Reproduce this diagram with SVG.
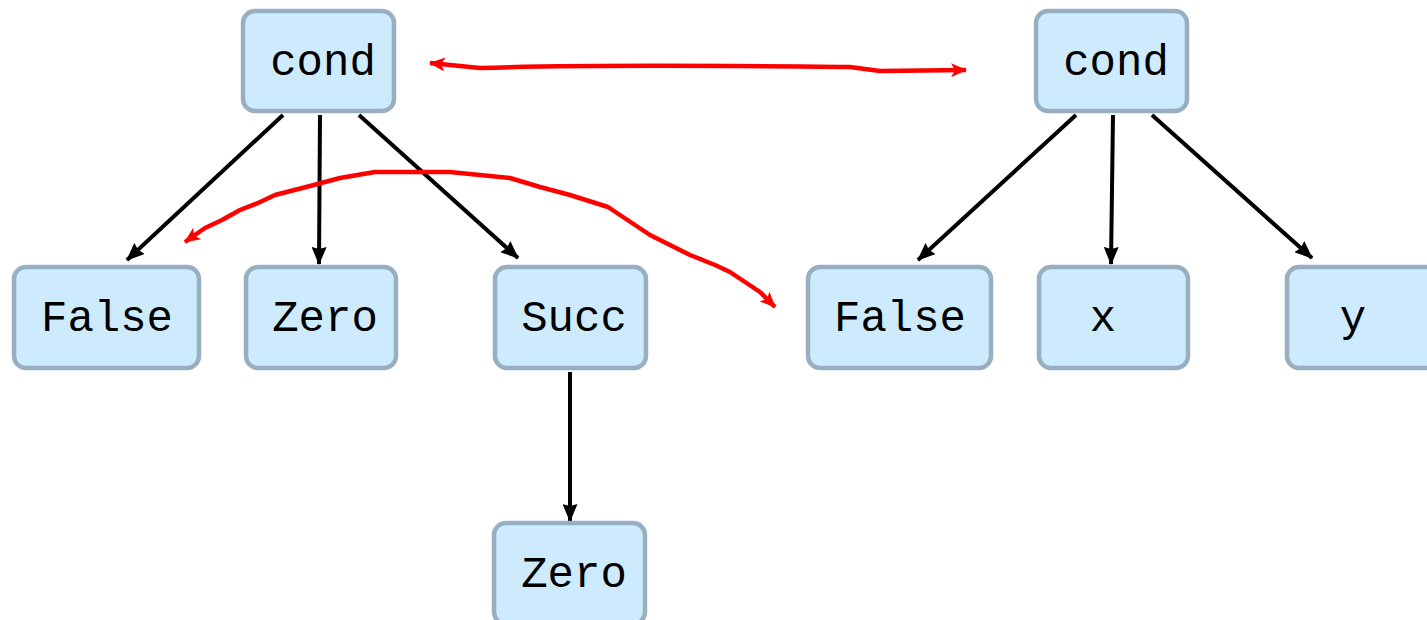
<svg xmlns="http://www.w3.org/2000/svg" width="1427" height="620" viewBox="0 0 1427 620">
<style>
.box{fill:#cdebfd;stroke:#98afc2;stroke-width:4.5}
.lbl{font-family:"Liberation Mono","Courier New",monospace;font-size:44px;fill:#000;text-anchor:middle}
.edge{stroke:#000;stroke-width:4;fill:none;marker-end:url(#ah)}
.red{stroke:#ff0000;stroke-width:4.5;fill:none;stroke-linejoin:round;marker-start:url(#rh);marker-end:url(#rh)}
</style>
<defs>
<marker id="ah" viewBox="0 0 18 15" refX="17" refY="7.5" markerWidth="18" markerHeight="15" markerUnits="userSpaceOnUse" orient="auto">
<path d="M0,0 L18,7.5 L0,15 L2,7.5 z" fill="#000"/>
</marker>
<marker id="rh" viewBox="0 0 16 14" refX="15" refY="7" markerWidth="16" markerHeight="14" markerUnits="userSpaceOnUse" orient="auto-start-reverse">
<path d="M0,0 L16,7 L0,14 L4,7 z" fill="#ff0000"/>
</marker>
</defs>
<g id="connectors">
<line class="edge" x1="283" y1="115" x2="127" y2="260"/>
<line class="edge" x1="320" y1="115" x2="319" y2="264"/>
<line class="edge" x1="359" y1="115" x2="518" y2="258"/>
<line class="edge" x1="570" y1="372" x2="570" y2="521"/>
<line class="edge" x1="1076" y1="115" x2="918" y2="260"/>
<line class="edge" x1="1113" y1="115" x2="1111" y2="264"/>
<line class="edge" x1="1152" y1="115" x2="1312" y2="258"/>
<path class="red" d="M430,63 L480,68 C600,64 760,66 850,67 L880,71 L966,70"/>
<path class="red" d="M185,242 L205,228 L222,220 L240,210 L258,203 L275,195 L310,186 L340,178 L375,172 L450,172 L510,178 L540,187 L570,195 L608,207 L650,235 L690,255 L715,265 L730,272 L760,292 L775,307"/>
</g>
<g id="n1"><rect class="box" x="243" y="11" width="151" height="100" rx="12"/><text class="lbl" x="323" y="75">cond</text></g>
<g id="n2"><rect class="box" x="14" y="267" width="185" height="101" rx="12"/><text class="lbl" x="107" y="331">False</text></g>
<g id="n3"><rect class="box" x="246" y="267" width="150" height="101" rx="12"/><text class="lbl" x="325" y="331">Zero</text></g>
<g id="n4"><rect class="box" x="495" y="267" width="151" height="101" rx="12"/><text class="lbl" x="574" y="331">Succ</text></g>
<g id="n5"><rect class="box" x="494" y="523" width="151" height="101" rx="12"/><text class="lbl" x="574" y="587">Zero</text></g>
<g id="n6"><rect class="box" x="1036" y="11" width="151" height="100" rx="12"/><text class="lbl" x="1116" y="75">cond</text></g>
<g id="n7"><rect class="box" x="808" y="267" width="183" height="101" rx="12"/><text class="lbl" x="900" y="331">False</text></g>
<g id="n8"><rect class="box" x="1039" y="267" width="149" height="101" rx="12"/><text class="lbl" x="1103" y="331">x</text></g>
<g id="n9"><rect class="box" x="1287" y="267" width="160" height="101" rx="12"/><text class="lbl" x="1353" y="331">y</text></g>
</svg>
